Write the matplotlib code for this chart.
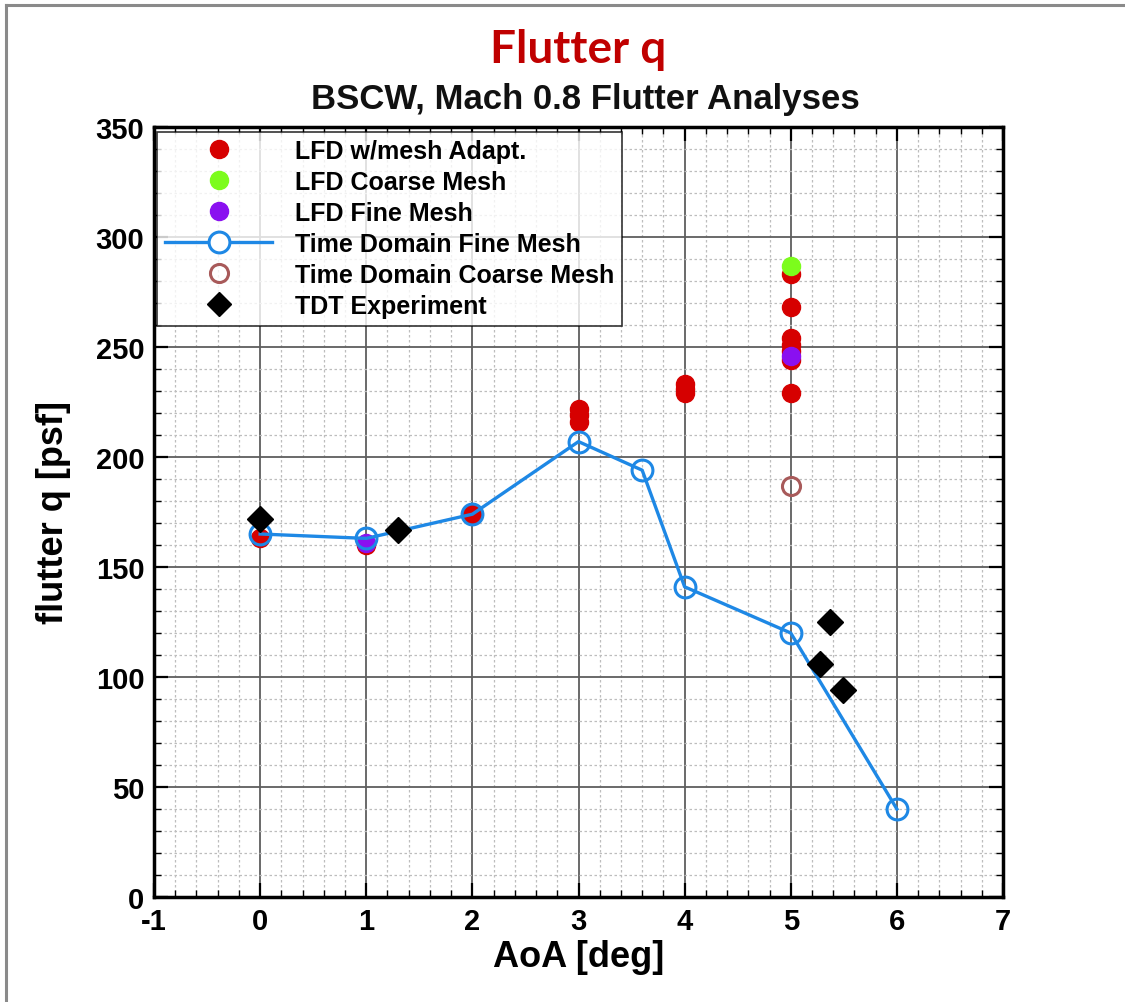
import matplotlib
matplotlib.use("Agg")
import matplotlib.pyplot as plt
from matplotlib.ticker import MultipleLocator
from matplotlib.lines import Line2D

plt.rcParams["axes.unicode_minus"] = False

# ---- data ----
td_fine_aoa = [0, 1, 2, 3, 3.6, 4, 5, 6]
td_fine_q = [165, 163, 174, 207, 194, 141, 120, 40]

lfd_adapt_aoa = [0, 1, 2, 3, 3, 3, 4, 4, 4, 5, 5, 5, 5, 5, 5, 5]
lfd_adapt_q = [163, 160, 174, 216, 219, 222, 229, 231, 233, 283, 268, 254, 251, 248, 244, 229]

lfd_coarse_aoa = [5]
lfd_coarse_q = [287]

lfd_fine_aoa = [1, 5]
lfd_fine_q = [161, 246]

td_coarse_aoa = [5]
td_coarse_q = [187]

tdt_aoa = [0, 1.3, 5.37, 5.28, 5.49]
tdt_q = [172, 167, 125, 106, 94]

title_main = "Flutter q"
title_sub = "BSCW, Mach 0.8 Flutter Analyses"
xlabel = "AoA [deg]"
ylabel = "flutter q [psf]"

# ---- figure ----
W, H = 1125, 1003
fig = plt.figure(figsize=(W / 100, H / 100), dpi=100)
fig.patch.set_facecolor("white")

ax = fig.add_axes([154 / W, 1 - 898 / H, (1003 - 154) / W, (898 - 128) / H])

font = "Liberation Sans"

ax.set_xlim(-1, 7)
ax.set_ylim(0, 350)
ax.xaxis.set_major_locator(MultipleLocator(1))
ax.xaxis.set_minor_locator(MultipleLocator(0.2))
ax.yaxis.set_major_locator(MultipleLocator(50))
ax.yaxis.set_minor_locator(MultipleLocator(10))

ax.grid(which="major", color="#5e5e5e", linewidth=1.3, linestyle="-")
ax.grid(which="minor", color="#bdbdbd", linewidth=0.9, linestyle=(0, (2, 2)))
ax.set_axisbelow(True)

for s in ax.spines.values():
    s.set_linewidth(2.5)
    s.set_color("black")

ax.tick_params(which="major", direction="in", length=10, width=1.6,
               top=True, right=True, labelsize=21, pad=7)
ax.tick_params(which="minor", direction="in", length=5, width=1.0,
               top=True, right=True)
for lab in ax.get_xticklabels() + ax.get_yticklabels():
    lab.set_fontfamily(font)
    lab.set_fontweight("bold")

ms = 13
ax.plot(lfd_adapt_aoa, lfd_adapt_q, linestyle="none", marker="o", markersize=ms,
        color="#d60000", markeredgecolor="#d60000", zorder=4)
ax.plot(lfd_coarse_aoa, lfd_coarse_q, linestyle="none", marker="o", markersize=ms,
        color="#7cfc1c", markeredgecolor="#7cfc1c", zorder=5)
ax.plot(lfd_fine_aoa, lfd_fine_q, linestyle="none", marker="o", markersize=ms,
        color="#8a10f0", markeredgecolor="#8a10f0", zorder=5)
ax.plot(td_coarse_aoa, td_coarse_q, linestyle="none", marker="o", markersize=ms,
        markerfacecolor="none", markeredgecolor="#a85a5a", markeredgewidth=2.2, zorder=5)
ax.plot(td_fine_aoa, td_fine_q, linestyle="-", linewidth=2.4, color="#1e88e5",
        marker="o", markersize=15, markerfacecolor="none",
        markeredgecolor="#1e88e5", markeredgewidth=2.2, zorder=6)
ax.plot(tdt_aoa, tdt_q, linestyle="none", marker="D", markersize=13,
        color="black", zorder=7)

ax.set_xlabel(xlabel, fontfamily=font, fontweight="bold", fontsize=26, labelpad=3)
ax.set_ylabel(ylabel, fontfamily=font, fontweight="bold", fontsize=26, labelpad=18)

handles = [
    Line2D([], [], linestyle="none", marker="o", markersize=13, color="#d60000"),
    Line2D([], [], linestyle="none", marker="o", markersize=13, color="#7cfc1c"),
    Line2D([], [], linestyle="none", marker="o", markersize=13, color="#8a10f0"),
    Line2D([], [], linestyle="-", linewidth=2.4, color="#1e88e5", marker="o",
           markersize=15, markerfacecolor="white", markeredgecolor="#1e88e5",
           markeredgewidth=2.2),
    Line2D([], [], linestyle="none", marker="o", markersize=13,
           markerfacecolor="none", markeredgecolor="#a85a5a", markeredgewidth=2.2),
    Line2D([], [], linestyle="none", marker="D", markersize=12, color="black"),
]
labels = ["LFD w/mesh Adapt.", "LFD Coarse Mesh", "LFD Fine Mesh",
          "Time Domain Fine Mesh", "Time Domain Coarse Mesh", "TDT Experiment"]
leg = ax.legend(handles, labels, loc="upper left", bbox_to_anchor=(0.004, 0.994),
                prop={"family": font, "weight": "bold", "size": 18},
                frameon=True, fancybox=False, edgecolor="black",
                handlelength=4.3, handletextpad=0.9, labelspacing=0.28,
                borderpad=0.3, borderaxespad=0.0)
leg.get_frame().set_linewidth(1.2)
leg.set_zorder(10)

fig.text(578 / W, 1 - 50 / H, title_main, ha="center", va="center",
         fontfamily="Lato", fontweight="bold", fontsize=33, color="#c00000")
fig.text(585 / W, 1 - 99 / H, title_sub, ha="center", va="center",
         fontfamily=font, fontweight="bold", fontsize=25, color="#111111")

# slide frame (top and left edges)
fig.add_artist(Line2D([6 / W, 1.0], [1 - 6 / H, 1 - 6 / H], color="#8a8a8a",
                      linewidth=2.2, transform=fig.transFigure))
fig.add_artist(Line2D([6 / W, 6 / W], [0.0, 1 - 6 / H], color="#8a8a8a",
                      linewidth=2.2, transform=fig.transFigure))

fig.savefig("out.png", dpi=100, facecolor="white")
